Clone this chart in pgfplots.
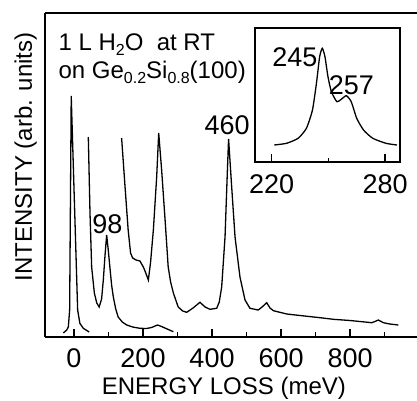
\documentclass[border=0pt]{standalone}
\usepackage{fontspec}
\setmainfont{Liberation Sans}
\usepackage{pgfplots}
\pgfplotsset{compat=1.18}

% subscript in text font, set low as in the original
\newcommand{\sub}[1]{\raisebox{-0.45ex}{\fontsize{16}{16}\selectfont #1}}

\begin{document}
\begin{tikzpicture}
\begin{axis}[
  at={(45pt,63pt)}, anchor=south west,
  scale only axis, width=372pt, height=324pt,
  xmin=-84, xmax=994, ymin=0, ymax=324,
  axis x line=box, axis y line=left,
  axis line style={-, line width=1.8pt},
  xtick={0,200,...,800}, minor xtick={100,300,...,900},
  xtick pos=bottom, ytick=\empty,
  major tick length=8pt, minor tick length=5pt,
  tick style={line width=1.3pt, black},
  tick align=inside,
  /pgf/number format/assume math mode=true,
  xticklabel style={font=\fontsize{27}{28}\selectfont, anchor=base, yshift=-30pt},
  xlabel={ENERGY LOSS (meV)}, ylabel={INTENSITY (arb. units)},
  label style={font=\fontsize{24}{26}\selectfont},
  xlabel style={at={(axis description cs:0.481,-0.177)}, anchor=base},
  ylabel style={at={(axis description cs:-0.035,0.556)}, anchor=base},
  clip=false,
]
% elastic peak
\addplot[black, line width=1.3pt] coordinates {
  (-31,4) (-21,7) (-16.4,10) (-12.6,27) (-8,241) (10.6,27) (17,13.7) (27,8.7) (44,5)
};
% x-scaled spectrum with 98 meV loss
\addplot[black, line width=1.3pt] coordinates {
  (41.5,200) (46.4,124) (51.2,70) (59,44) (66,34) (73,30) (80,38) (85,57) (90,82)
  (94.7,102) (99,88) (104,70) (109,52) (114,40) (121,28) (128,20) (140,15) (153,12)
  (170,10) (191,8.7) (210,8.5) (225,9.5) (235,11) (242,12) (250,11) (259,9.7)
  (270,8) (288,5.3)
};
% higher-gain spectrum
\addplot[black, line width=1.3pt] coordinates {
  (138,199) (148,150) (157,107) (164,84) (170,79) (180,77) (191,76) (201,70)
  (208,64) (215.5,57) (222,75) (230,107) (239.6,160) (245.5,204) (254,167)
  (264,117) (273,70) (280,55) (288,44) (302,30) (315,26) (326.6,24.7) (345,29)
  (365,34.7) (380,30) (394,27.7) (413.5,28.7) (421,35) (428,50) (437.7,100)
  (444.6,167) (448,198) (457,150) (466.7,100) (481,60) (495.6,37) (510,28.7)
  (534,27) (545,30) (558.5,34.3) (568,29) (578,26.3) (616.5,23) (655,21.5)
  (713,19.3) (751.6,17.7) (800,16.5) (863,14.3) (872,15.5) (882,17) (890,15.5)
  (896.6,14.3) (915,13) (940,12)
};
\node[font=\fontsize{27}{28}\selectfont] at (axis cs:97,113) {98};
\node[font=\fontsize{27}{28}\selectfont] at (axis cs:443.5,212) {460};
\node[anchor=base west, font=\fontsize{24}{26}\selectfont] at (axis cs:-55,287) {1 L H\sub{2}O\ \ at RT};
\node[anchor=base west, font=\fontsize{24}{26}\selectfont] at (axis cs:-55,259) {on Ge\sub{0.2}Si\sub{0.8}(100)};
\end{axis}

% inset
\begin{axis}[
  at={(255pt,238pt)}, anchor=south west,
  scale only axis, width=145pt, height=134pt,
  xmin=211.2, xmax=287.9, ymin=0, ymax=134,
  axis line style={line width=1.4pt},
  xtick={220,280}, minor xtick={250},
  xtick pos=bottom, ytick=\empty,
  major tick length=8pt, minor tick length=4.5pt,
  tick style={line width=1.3pt, black},
  tick align=inside,
  /pgf/number format/assume math mode=true,
  xticklabel style={font=\fontsize{27}{28}\selectfont, anchor=base, yshift=-31pt},
  clip=false,
]
\addplot[black, line width=1.3pt, smooth, tension=0.35] coordinates {
  (221.4,17) (227.9,18.7) (234,23.7) (238.4,33.7) (241.6,52) (243.7,78.7)
  (245.4,105.3) (246.8,113.7) (248.2,105.3) (249.8,85.3) (251.6,70.3)
  (254.5,60.3) (256.8,62.7) (259.5,66.3) (262.1,60.3) (265,43.7) (268.6,32)
  (273.5,23.7) (280.5,18.7) (286.3,17)
};
\node[font=\fontsize{27}{28}\selectfont] at (axis cs:232.3,105) {245};
\node[font=\fontsize{27}{28}\selectfont] at (axis cs:262.2,77) {257};
\end{axis}

\pgfresetboundingbox
\path[use as bounding box] (0pt,0pt) rectangle (417pt,400pt);
\end{tikzpicture}
\end{document}
